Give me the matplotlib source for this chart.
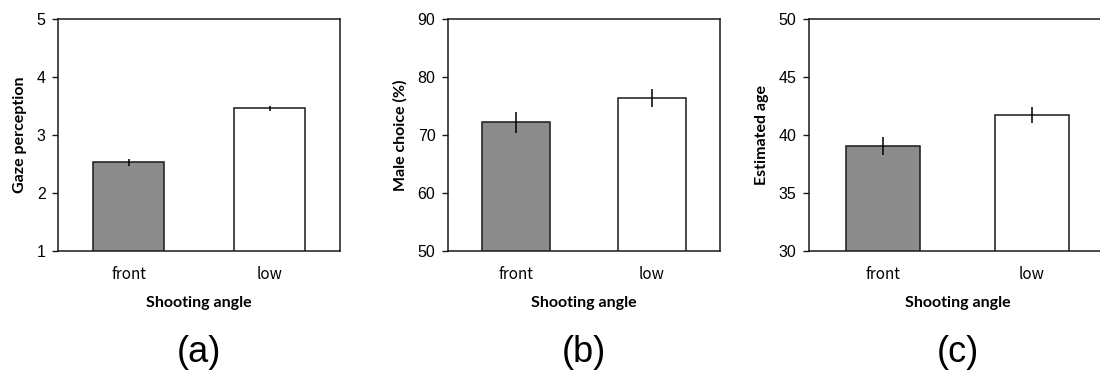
import matplotlib
matplotlib.use("Agg")
import matplotlib.pyplot as plt

# data
categories = ["front", "low"]
gaze_means = [2.53, 3.46]
gaze_err = [0.06, 0.04]
choice_means = [72.2, 76.4]
choice_err = [1.8, 1.6]
age_means = [39.05, 41.72]
age_err = [0.75, 0.72]

ylabels = ["Gaze perception", "Male choice (%)", "Estimated age"]
ylims = [(1, 5), (50, 90), (30, 50)]
yticks = [[1, 2, 3, 4, 5], [50, 60, 70, 80, 90], [30, 35, 40, 45, 50]]
panel_tags = ["(a)", "(b)", "(c)"]

bar_colors = ["#8c8c8c", "#ffffff"]
edge = "#1a1a1a"

fig = plt.figure(figsize=(11, 3.72), dpi=100)
fig.patch.set_facecolor("white")

# axes rectangles in pixels: left, width
px_boxes = [(58, 282), (448, 272), (809, 297)]
top_px, bottom_px = 19, 251
W, H = 1100, 372

panels = [(gaze_means, gaze_err), (choice_means, choice_err), (age_means, age_err)]

for i, ((means, errs), (lpx, wpx)) in enumerate(zip(panels, px_boxes)):
    ax = fig.add_axes([lpx / W, 1 - bottom_px / H, wpx / W, (bottom_px - top_px) / H])
    x = list(range(len(categories)))
    ax.bar(x, means, width=0.5, color=bar_colors, edgecolor=edge, linewidth=1.1, zorder=2)
    ax.errorbar(x, means, yerr=errs, fmt="none", ecolor="black", elinewidth=1.1, capsize=0, zorder=3)
    ax.set_xlim(-0.5, 1.5)
    ax.set_ylim(*ylims[i])
    ax.set_yticks(yticks[i])
    ax.set_xticks(x)
    ax.set_xticklabels(categories, family=["Noto Sans CJK JP", "DejaVu Sans"], fontsize=11)
    for lab in ax.get_yticklabels():
        lab.set_family("Liberation Sans")
        lab.set_fontsize(11.5)
    ax.tick_params(axis="y", direction="out", length=4, width=1, pad=5, color=edge)
    ax.tick_params(axis="x", length=0, pad=11)
    for sp in ax.spines.values():
        sp.set_color(edge)
        sp.set_linewidth(1.1)
    ax.set_ylabel(ylabels[i], family="Lato", fontweight="bold", fontsize=11.5, labelpad=7)
    ax.set_xlabel("Shooting angle", family="Lato", fontweight="bold", fontsize=11.5, labelpad=9)
    ax.text(0.5, -101 / (bottom_px - top_px), panel_tags[i], transform=ax.transAxes,
            ha="center", va="center", family="Liberation Sans", fontsize=26)

fig.savefig("out.png", dpi=100)
